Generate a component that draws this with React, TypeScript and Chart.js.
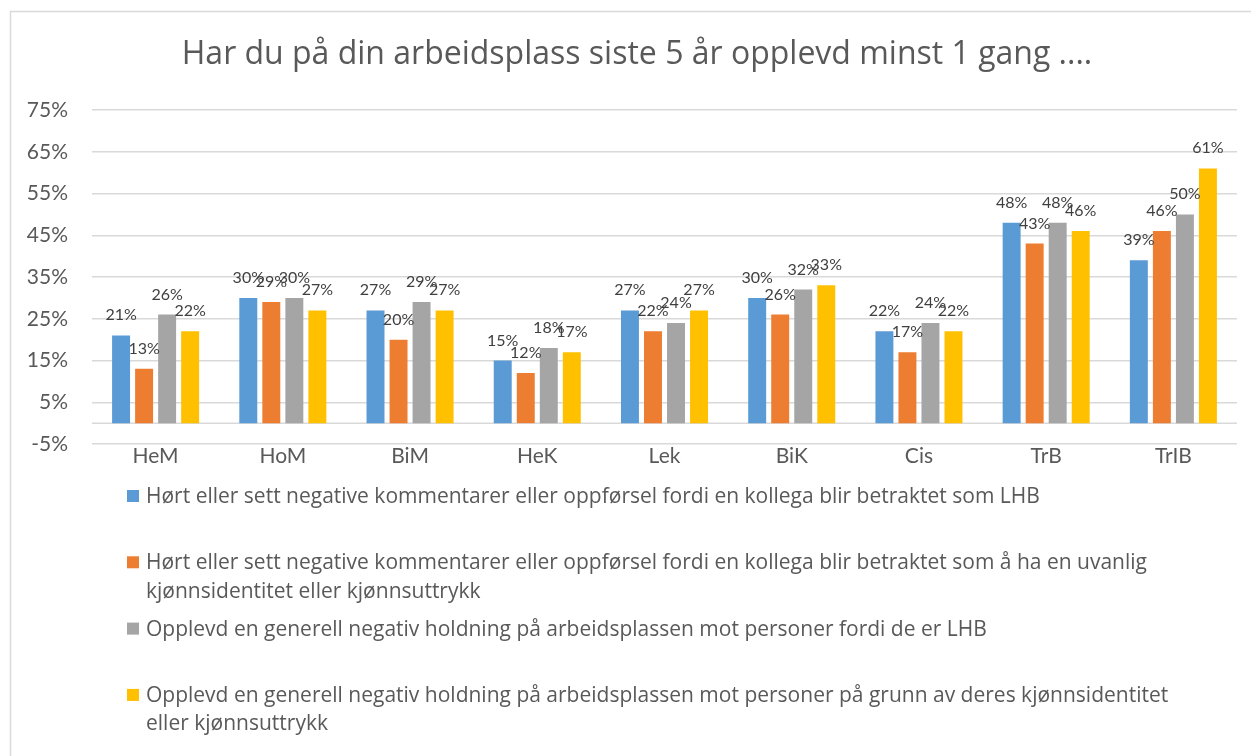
import React, { useEffect, useRef } from "react";
import { Chart, registerables } from "chart.js";

Chart.register(...registerables);

const chartTitle = "Har du på din arbeidsplass siste 5 år opplevd minst 1 gang ....";
const categories = ["HeM", "HoM", "BiM", "HeK", "Lek", "BiK", "Cis", "TrB", "TrIB"];

const lhbComments = [21, 30, 27, 15, 27, 30, 22, 48, 39];
const genderComments = [13, 29, 20, 12, 22, 26, 17, 43, 46];
const lhbAttitude = [26, 30, 29, 18, 24, 32, 24, 48, 50];
const genderAttitude = [22, 27, 27, 17, 27, 33, 22, 46, 61];

const seriesLabels = [
  "Hørt eller sett negative kommentarer eller oppførsel fordi en kollega blir betraktet som LHB",
  "Hørt eller sett negative kommentarer eller oppførsel fordi en kollega blir betraktet som å ha en uvanlig kjønnsidentitet eller kjønnsuttrykk",
  "Opplevd en generell negativ holdning på arbeidsplassen mot personer fordi de er LHB",
  "Opplevd en generell negativ holdning på arbeidsplassen mot personer på grunn av deres kjønnsidentitet eller kjønnsuttrykk",
];
// legend lines as wrapped in the reference
const legendLines = [
  ["Hørt eller sett negative kommentarer eller oppførsel fordi en kollega blir betraktet som LHB"],
  [
    "Hørt eller sett negative kommentarer eller oppførsel fordi en kollega blir betraktet som å ha en uvanlig",
    "kjønnsidentitet eller kjønnsuttrykk",
  ],
  ["Opplevd en generell negativ holdning på arbeidsplassen mot personer fordi de er LHB"],
  [
    "Opplevd en generell negativ holdning på arbeidsplassen mot personer på grunn av deres kjønnsidentitet",
    "eller kjønnsuttrykk",
  ],
];
const seriesColors = ["#5B9BD5", "#ED7D31", "#A5A5A5", "#FFC000"];

const yMin = -5;
const yMax = 75;
const yStep = 10;

const FONT = "Lato, 'Open Sans', sans-serif";
const WIDE_FONT = "'Open Sans', Lato, sans-serif";
const TEXT = "#595959";

export default function App() {
  const ref = useRef<HTMLCanvasElement | null>(null);

  useEffect(() => {
    const canvas = ref.current;
    if (!canvas) return;

    const decorations = {
      id: "decorations",
      beforeDraw(chart: any) {
        const ctx = chart.ctx;
        ctx.save();
        ctx.fillStyle = "#ffffff";
        ctx.fillRect(0, 0, chart.width, chart.height);
        ctx.strokeStyle = "#d9d9d9";
        ctx.lineWidth = 1.5;
        ctx.strokeRect(10.5, 11.5, chart.width + 50, chart.height + 50);
        // title
        ctx.fillStyle = TEXT;
        ctx.font = `32px ${WIDE_FONT}`;
        ctx.textAlign = "center";
        ctx.textBaseline = "alphabetic";
        ctx.fillText(chartTitle, 637, 64);
        ctx.restore();
      },
      beforeDatasetsDraw(chart: any) {
        const ctx = chart.ctx;
        const y0 = chart.scales.y.getPixelForValue(0);
        ctx.save();
        ctx.strokeStyle = "#d9d9d9";
        ctx.lineWidth = 1.5;
        ctx.beginPath();
        ctx.moveTo(chart.chartArea.left, y0);
        ctx.lineTo(chart.chartArea.right, y0);
        ctx.stroke();
        ctx.restore();
      },
      afterDatasetsDraw(chart: any) {
        const ctx = chart.ctx;
        ctx.save();
        ctx.fillStyle = "#404040";
        ctx.font = `16px ${FONT}`;
        ctx.textAlign = "center";
        ctx.textBaseline = "alphabetic";
        chart.data.datasets.forEach((ds: any, i: number) => {
          const meta = chart.getDatasetMeta(i);
          meta.data.forEach((bar: any, j: number) => {
            ctx.fillText(`${ds.data[j]}%`, bar.x, bar.y - 15);
          });
        });
        ctx.restore();
      },
      afterDraw(chart: any) {
        const ctx = chart.ctx;
        ctx.save();
        ctx.font = `21px ${WIDE_FONT}`;
        ctx.textAlign = "left";
        ctx.textBaseline = "alphabetic";
        const firstBaseline = 503;
        const itemStep = 66.3;
        const lineStep = 28.5;
        legendLines.forEach((lines, i) => {
          const base = firstBaseline + i * itemStep;
          ctx.fillStyle = seriesColors[i];
          ctx.fillRect(127, base - 13, 12, 12);
          ctx.fillStyle = TEXT;
          lines.forEach((line, j) => {
            ctx.fillText(line, 146, base + j * lineStep);
          });
        });
        ctx.restore();
      },
    };

    const chart = new Chart(canvas, {
      type: "bar",
      data: {
        labels: categories,
        datasets: [lhbComments, genderComments, lhbAttitude, genderAttitude].map((d, i) => ({
          label: seriesLabels[i],
          data: d,
          backgroundColor: seriesColors[i],
          borderWidth: 0,
          categoryPercentage: 0.724,
          barPercentage: 0.78,
        })),
      },
      options: {
        animation: false,
        responsive: false,
        maintainAspectRatio: false,
        layout: { padding: { left: 12, top: 110, right: 14, bottom: 282 } },
        plugins: {
          legend: { display: false },
          title: { display: false },
          tooltip: { enabled: false },
        },
        scales: {
          x: {
            grid: { display: false, drawTicks: false },
            border: { display: false },
            ticks: {
              color: TEXT,
              font: { family: FONT, size: 21 },
              padding: 0,
            },
            afterFit: (s: any) => {
              s.height = 30;
            },
          },
          y: {
            min: yMin,
            max: yMax,
            grid: { color: "#d9d9d9", lineWidth: 1.5, drawTicks: false },
            border: { display: false },
            ticks: {
              stepSize: yStep,
              color: TEXT,
              font: { family: FONT, size: 21 },
              padding: 24,
              callback: (v: any) => `${v}%`,
            },
            afterFit: (s: any) => {
              s.width = 80;
            },
          },
        },
      },
      plugins: [decorations],
    });

    return () => chart.destroy();
  }, []);

  return (
    <div style={{ position: "fixed", left: 0, top: 0, width: 1251, height: 756, background: "#fff" }}>
      <canvas ref={ref} width={1251} height={756} style={{ width: 1251, height: 756, display: "block" }} />
    </div>
  );
}
